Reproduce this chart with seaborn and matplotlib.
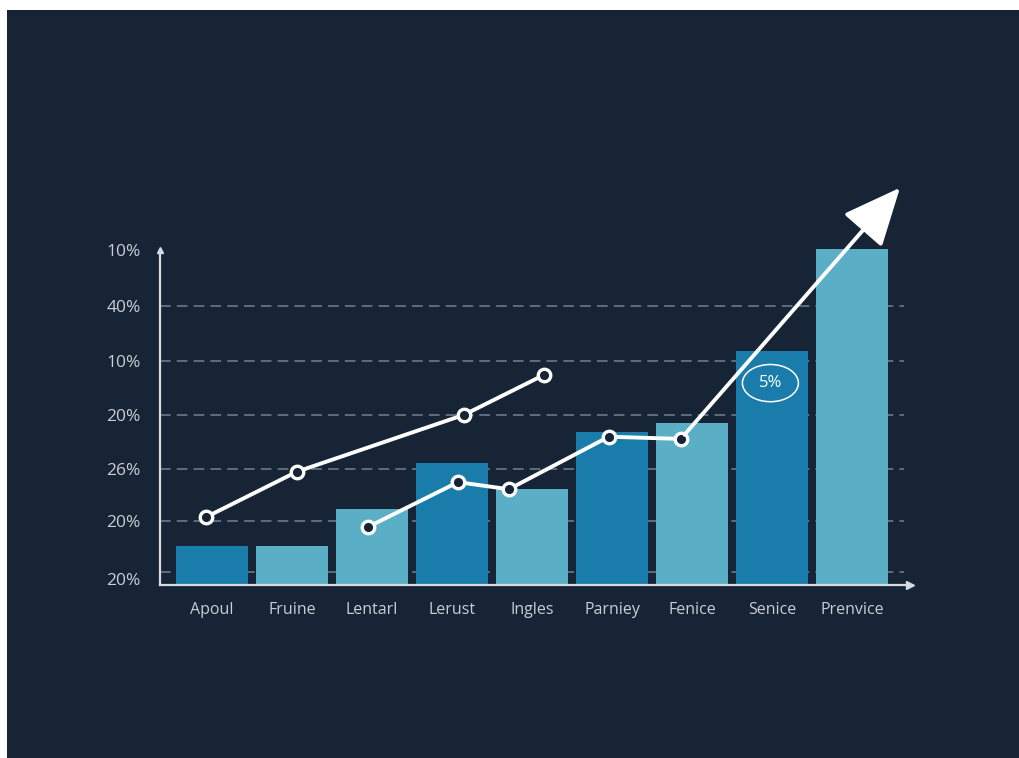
import matplotlib.pyplot as plt
import matplotlib.patches as mpatches
import seaborn as sns

# data (y in grid units, ~55 px per unit)
categories = ["Apoul", "Fruine", "Lentarl", "Lerust", "Ingles", "Parniey", "Fenice", "Senice", "Prenvice"]
bar_values = [0.71, 0.71, 1.39, 2.23, 1.76, 2.80, 2.96, 4.28, 6.14]
bar_shade = ["dark", "light", "light", "dark", "light", "dark", "light", "dark", "light"]

upper_x = [-0.075, 1.06, 3.15, 4.15]
upper_y = [1.24, 2.07, 3.11, 3.84]

lower_x = [1.95, 3.075, 3.71, 4.96, 5.86]
lower_y = [1.06, 1.88, 1.75, 2.71, 2.67]
arrow_tip = (8.6, 7.26)

ytick_pos = [0.11, 1.17, 2.12, 3.11, 4.10, 5.10, 6.12]
ytick_labels = ["20%", "20%", "26%", "20%", "10%", "40%", "10%"]
grid_pos = [0.24, 1.17, 2.12, 3.11, 4.10, 5.10]

callout_label = "5%"
callout_pos = (6.98, 3.69)

BG = "#172435"
DARK = "#1a7cab"
LIGHT = "#5aafc7"
TEXT = "#c9ced6"

sns.set_style("dark")
plt.rcParams["font.family"] = ["Open Sans", "DejaVu Sans"]

fig = plt.figure(figsize=(10.19, 7.58), dpi=100, facecolor="white")
# dark panel, leaves a thin white strip at top and left like the reference
fig.patches.append(mpatches.Rectangle((7 / 1019, 0), 1, 748 / 758, transform=fig.transFigure,
                                      facecolor=BG, edgecolor="none", zorder=-1))

ax = fig.add_axes([160 / 1019, (758 - 585) / 758, 800 / 1019, 435 / 758])
ax.set_facecolor("none")

colors = [DARK if s == "dark" else LIGHT for s in bar_shade]
sns.barplot(x=categories, y=bar_values, hue=categories, palette=colors, legend=False,
            width=0.9, saturation=1, linewidth=0, edgecolor="none", ax=ax, zorder=2)

ax.hlines(grid_pos, -0.65, 8.65, color="#8a96a6", lw=1.1, ls=(0, (7, 4)), zorder=1, alpha=0.8)

line_kw = dict(sort=False, color="white", lw=2.8, ax=ax, zorder=4, marker="o",
               markersize=9, markerfacecolor=BG, markeredgecolor="white", markeredgewidth=2.4)
sns.lineplot(x=upper_x, y=upper_y, **line_kw)
sns.lineplot(x=lower_x, y=lower_y, **line_kw)

ax.annotate("", xy=arrow_tip, xytext=(lower_x[-1], lower_y[-1]),
            arrowprops=dict(arrowstyle="-|>,head_length=1.8,head_width=0.8", color="white",
                            lw=2.8, mutation_scale=20, shrinkA=4, shrinkB=0),
            zorder=5, annotation_clip=False)

ax.add_patch(mpatches.Ellipse(callout_pos, 0.7, 0.68, facecolor="none", edgecolor="white",
                              lw=1.1, zorder=5))
ax.text(callout_pos[0], callout_pos[1], callout_label, color="white", fontsize=12,
        ha="center", va="center", zorder=6)

ax.set_xlim(-0.65, 9.35)
ax.set_ylim(0, 7.95)

ax.set_yticks(ytick_pos)
ax.set_yticklabels(ytick_labels)
ax.tick_params(axis="y", length=0, pad=14, colors=TEXT, labelsize=12.5)
ax.tick_params(axis="x", length=0, pad=12, colors=TEXT, labelsize=11.5)
ax.grid(False)

for side in ["top", "right"]:
    ax.spines[side].set_visible(False)
ax.spines["left"].set_color("#d6dbe2")
ax.spines["bottom"].set_color("#d6dbe2")
ax.spines["left"].set_linewidth(1.6)
ax.spines["bottom"].set_linewidth(1.6)
ax.spines["left"].set_bounds(0, 6.12)
ax.spines["bottom"].set_bounds(-0.65, 8.7)
ax.spines["left"].set_zorder(3)
ax.spines["bottom"].set_zorder(3)
ax.plot(8.72, 0, marker=">", color="#d6dbe2", markersize=6, clip_on=False, zorder=3)
ax.plot(-0.65, 6.12, marker="^", color="#d6dbe2", markersize=4, clip_on=False, zorder=3)

fig.savefig("out.png", dpi=100, facecolor="white")
plt.close(fig)
